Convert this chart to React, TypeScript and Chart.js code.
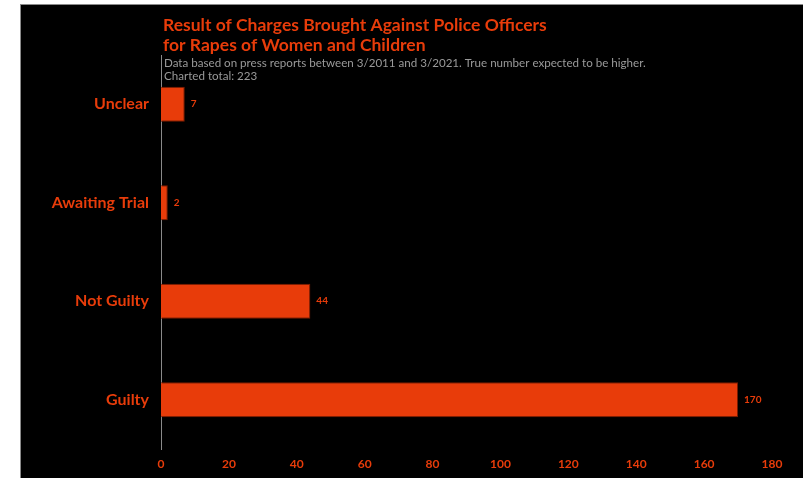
import React, { useEffect, useRef } from "react";
import { Chart, registerables } from "chart.js";

Chart.register(...registerables);

const categories = ["Unclear", "Awaiting Trial", "Not Guilty", "Guilty"];
const values = [7, 2, 44, 170];
const titleLines = [
  "Result of Charges Brought Against Police Officers",
  "for Rapes of Women and Children",
];
const subtitleLines = [
  "Data based on press reports between 3/2011 and 3/2021. True number expected to be higher.",
  "Charted total: 223",
];

const ORANGE = "#e83c0a";
const FONT = "Lato, 'Noto Sans', sans-serif";

const textPlugin = {
  id: "customText",
  afterDraw(chart: any) {
    const { ctx, chartArea } = chart;
    ctx.save();
    ctx.textAlign = "left";
    ctx.textBaseline = "middle";
    ctx.fillStyle = ORANGE;
    ctx.font = `bold 17.5px ${FONT}`;
    titleLines.forEach((t, i) => ctx.fillText(t, chartArea.left + 2, 20 + i * 20));
    ctx.fillStyle = "#9a9a9a";
    ctx.font = `11.6px ${FONT}`;
    subtitleLines.forEach((t, i) => ctx.fillText(t, chartArea.left + 3, 58.5 + i * 13));
    // value labels
    const meta = chart.getDatasetMeta(0);
    ctx.fillStyle = ORANGE;
    ctx.font = `bold 10px ${FONT}`;
    meta.data.forEach((bar: any, i: number) => {
      ctx.fillText(String(values[i]), bar.x + 6, bar.y);
    });
    ctx.restore();
  },
};

export default function App() {
  const ref = useRef<HTMLCanvasElement>(null);
  useEffect(() => {
    if (!ref.current) return;
    const chart = new Chart(ref.current, {
      type: "bar",
      data: {
        labels: categories,
        datasets: [
          {
            data: values,
            backgroundColor: ORANGE,
            borderColor: "#7a1c00",
            borderWidth: 1,
            categoryPercentage: 1,
            barPercentage: 0.355,
          },
        ],
      },
      options: {
        indexAxis: "y",
        animation: false,
        responsive: false,
        maintainAspectRatio: false,
        layout: { padding: { top: 50, right: 31, left: 0, bottom: 0 } },
        plugins: {
          legend: { display: false },
          title: { display: false },
          tooltip: { enabled: false },
        },
        scales: {
          x: {
            min: 0,
            max: 180,
            grid: { display: false, drawTicks: false },
            border: { display: false },
            ticks: {
              stepSize: 20,
              color: ORANGE,
              font: { family: FONT, size: 12, weight: "bold" },
              padding: 8,
            },
            afterFit(scale: any) {
              scale.height = 29;
            },
          },
          y: {
            grid: { display: false, drawTicks: false },
            border: { display: true, color: "#8a8a8a", width: 1 },
            ticks: {
              color: ORANGE,
              font: { family: FONT, size: 16, weight: "bold" },
              padding: 12,
            },
            afterFit(scale: any) {
              scale.width = 140;
            },
          },
        },
      },
      plugins: [textPlugin],
    });
    return () => chart.destroy();
  }, []);
  return (
    <div
      style={{
        position: "absolute",
        left: 20,
        top: 4,
        width: 783,
        height: 474,
        background: "#000",
        borderTop: "1px solid #8a8a8a",
        borderLeft: "1px solid #8a8a8a",
        boxSizing: "border-box",
        overflow: "hidden",
      }}
    >
      <canvas ref={ref} width={782} height={473} style={{ display: "block" }} />
    </div>
  );
}
